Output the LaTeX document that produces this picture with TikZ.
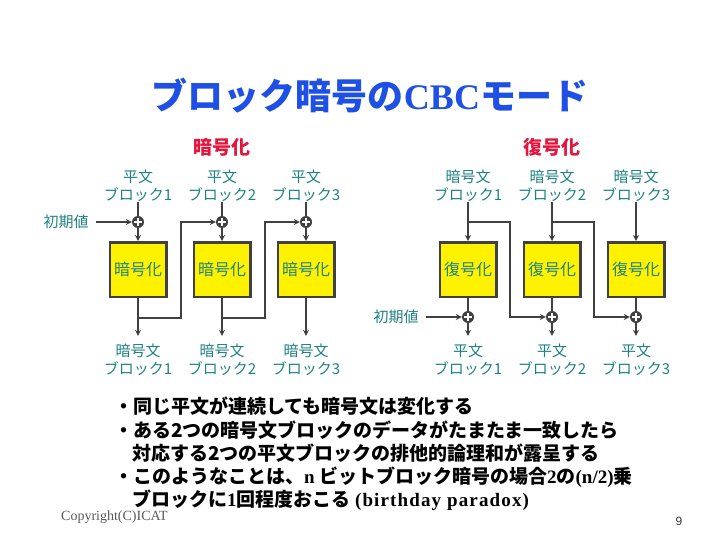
\documentclass[tikz,border=0pt]{standalone}
\usepackage{fontspec}
\setmainfont{Liberation Serif}
\setsansfont{Liberation Sans}
\newfontfamily\jp{Noto Sans CJK JP}
\newfontfamily\spaced{Liberation Serif}[LetterSpace=6]
\usetikzlibrary{arrows.meta}
\definecolor{labelteal}{HTML}{1E8282}
\definecolor{linegray}{HTML}{404040}
\definecolor{titleblue}{HTML}{1E50E6}
\definecolor{headred}{HTML}{E6143C}
\begin{document}
\begin{tikzpicture}[x=1pt,y=-1pt,
 lbl/.style={font=\jp\fontsize{15}{18}\selectfont, text=labelteal, align=center, inner sep=0pt},
 cbox/.style={draw=linegray, line width=2.5pt, fill=yellow, minimum width=56.5pt, minimum height=54.5pt, inner sep=0pt, font=\jp\fontsize{16}{18}\selectfont, text=labelteal},
 xor/.style={circle, fill=linegray, minimum size=12pt, inner sep=0pt,
   path picture={\draw[white,line width=1.3pt]
     ([yshift=-2pt]path picture bounding box.north) -- ([yshift=2pt]path picture bounding box.south)
     ([xshift=2pt]path picture bounding box.west) -- ([xshift=-2pt]path picture bounding box.east);}},
 conn/.style={draw=linegray, line width=2pt},
 arr/.style={conn, -{Stealth[length=6pt,width=6pt]}},
 head/.style={font=\jp\bfseries\fontsize{19}{21}\selectfont, text=headred},
 bullet/.style={font=\jp\bfseries\fontsize{19}{22}\selectfont, text=black, anchor=west, inner sep=0pt},
]
\fill[white] (0,0) rectangle (720,540);
\useasboundingbox (0,0) rectangle (720,540);

% title
\node[font=\jp\bfseries\fontsize{36}{40}\selectfont, text=titleblue] (title) at (370,96) {ブロック暗号の{\rmfamily\bfseries CBC}モード};

% headings
\node[head] (h1) at (222,147) {暗号化};
\node[head] (h2) at (552,147) {復号化};

% ---------- encryption ----------
\node[lbl] (p1) at (138,186) {平文\\ブロック1};
\node[lbl] (p2) at (222,186) {平文\\ブロック2};
\node[lbl] (p3) at (306,186) {平文\\ブロック3};
\node[xor] (x1) at (138,222) {};
\node[xor] (x2) at (222,222) {};
\node[xor] (x3) at (306,222) {};
\node[cbox] (e1) at (138,269.5) {暗号化};
\node[cbox] (e2) at (222,269.5) {暗号化};
\node[cbox] (e3) at (306,269.5) {暗号化};
\node[lbl] (c1) at (138,360) {暗号文\\ブロック1};
\node[lbl] (c2) at (222,360) {暗号文\\ブロック2};
\node[lbl] (c3) at (306,360) {暗号文\\ブロック3};
\node[lbl] (iv1) at (66,222) {初期値};

\foreach \i in {1,2,3}{
  \draw[conn] (p\i.south) -- (x\i);
  \draw[arr] (x\i) -- (e\i.north);
  \draw[arr, shorten >=8pt] (e\i.south) -- (c\i.north);
}
\draw[arr, shorten <=7pt] (iv1.east) -- (x1);
\coordinate (f1) at (138,318);
\coordinate (k1) at (181,318);
\coordinate (f2) at (222,318);
\coordinate (k2) at (265,318);
\draw[arr] (f1) -- (k1) |- (x2);
\draw[arr] (f2) -- (k2) |- (x3);

% ---------- decryption ----------
\node[lbl] (c4) at (468,186) {暗号文\\ブロック1};
\node[lbl] (c5) at (552,186) {暗号文\\ブロック2};
\node[lbl] (c6) at (636,186) {暗号文\\ブロック3};
\node[cbox] (d1) at (468,269.5) {復号化};
\node[cbox] (d2) at (552,269.5) {復号化};
\node[cbox] (d3) at (636,269.5) {復号化};
\node[xor] (y1) at (468,317) {};
\node[xor] (y2) at (552,317) {};
\node[xor] (y3) at (636,317) {};
\node[lbl] (p4) at (468,360) {平文\\ブロック1};
\node[lbl] (p5) at (552,360) {平文\\ブロック2};
\node[lbl] (p6) at (636,360) {平文\\ブロック3};
\node[lbl] (iv2) at (396,317) {初期値};

\foreach \i/\j/\k in {4/1/4,5/2/5,6/3/6}{
  \draw[arr] (c\i.south) -- (d\j.north);
  \draw[conn] (d\j.south) -- (y\j);
  \draw[arr, shorten >=8pt] (y\j) -- (p\k.north);
}
\draw[arr, shorten <=7pt] (iv2.east) -- (y1);
\coordinate (b1) at (468,222);
\coordinate (m1) at (510,317);
\coordinate (b2) at (552,222);
\coordinate (m2) at (594,317);
\draw[arr] (b1) -| (m1) -- (y2);
\draw[arr] (b2) -| (m2) -- (y3);

% ---------- bullets ----------
\node[bullet] (l1) at (114,406) {・同じ平文が連続しても暗号文は変化する};
\node[bullet] (l2) at (114,430) {・ある2つの暗号文ブロックのデータがたまたま一致したら};
\node[bullet] (l3) at (132,453) {対応する2つの平文ブロックの排他的論理和が露呈する};
\node[bullet] (l4) at (114,477) {・このようなことは、{\rmfamily\bfseries n} ビットブロック暗号の場合{\rmfamily\bfseries 2}の{\rmfamily\bfseries (n/2)}乗};
\node[bullet] (l5) at (132,500) {ブロックに{\rmfamily\bfseries 1}回程度おこる {\spaced\bfseries (birthday paradox)}};

% footer
\node[font=\rmfamily\fontsize{14}{16}\selectfont, text=black!65, anchor=west, inner sep=0pt] (copy) at (61,517) {Copyright(C)ICAT};
\node[font=\sffamily\fontsize{12}{14}\selectfont, text=black!80] (pg) at (679,521) {9};
\end{tikzpicture}
\end{document}
